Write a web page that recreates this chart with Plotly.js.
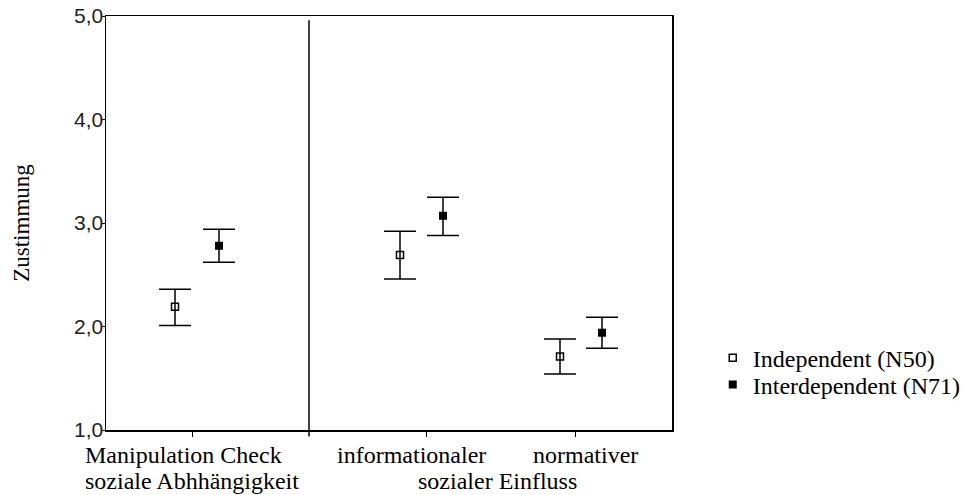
<!DOCTYPE html>
<html>
<head>
<meta charset="utf-8">
<script src="https://cdn.plot.ly/plotly-3.0.1.min.js"></script>
<style>html,body{margin:0;padding:0;background:#fff;}#chart{width:974px;height:495px;}</style>
</head>
<body>
<div id="chart"></div>
<script>
// Data
var categories = ["Manipulation Check", "informationaler", "normativer"];
var groupLabels = ["soziale Abhhängigkeit", "sozialer Einfluss"];
var seriesNames = ["Independent (N50)", "Interdependent (N71)"];

var indepMean  = [2.19, 2.69, 1.71];
var indepUpper = [2.36, 2.92, 1.88];
var indepLower = [2.01, 2.46, 1.54];

var interMean  = [2.78, 3.07, 1.94];
var interUpper = [2.94, 3.25, 2.09];
var interLower = [2.62, 2.88, 1.79];

var yTicks = [1, 2, 3, 4, 5];

// Layout helpers (positions on a numeric x axis)
var catPos = [0.86, 3.20, 4.69];
var indepOff = [-0.17, -0.26, -0.15];
var interOff = [0.27, 0.17, 0.27];
var labelShift = [-9, -15, 10];
var sepPos = 2.03;

function plus(m, u) { return m.map(function (v, i) { return u[i] - v; }); }
function minus(m, l) { return m.map(function (v, i) { return v - l[i]; }); }

var serif = "'Liberation Serif', 'Times New Roman', serif";
var sans = "'Liberation Sans', Arial, sans-serif";
var fs = 24;

var traces = [
  {
    type: "scatter", mode: "markers", name: seriesNames[0], legend: "legend",
    x: catPos.map(function (p, i) { return p + indepOff[i]; }),
    y: indepMean,
    marker: { symbol: "square-open", size: 7, color: "#000", line: { width: 1.5, color: "#000" } },
    error_y: { type: "data", symmetric: false, array: plus(indepMean, indepUpper), arrayminus: minus(indepMean, indepLower), color: "#000", thickness: 1.5, width: 16 }
  },
  {
    type: "scatter", mode: "markers", name: seriesNames[1], legend: "legend2",
    x: catPos.map(function (p, i) { return p + interOff[i]; }),
    y: interMean,
    marker: { symbol: "square", size: 8, color: "#000" },
    error_y: { type: "data", symmetric: false, array: plus(interMean, interUpper), arrayminus: minus(interMean, interLower), color: "#000", thickness: 1.5, width: 16 }
  }
];

var annotations = categories.map(function (c, i) {
  return { xref: "x", yref: "paper", x: catPos[i], xshift: labelShift[i], y: 0, yshift: -10, xanchor: "center", yanchor: "top", showarrow: false, text: c, font: { family: serif, size: fs, color: "#000" } };
});
annotations.push({ xref: "x", yref: "paper", x: catPos[0], y: 0, yshift: -36, xanchor: "center", yanchor: "top", showarrow: false, text: groupLabels[0], font: { family: serif, size: fs, color: "#000" } });
annotations.push({ xref: "x", yref: "paper", x: (catPos[1] + catPos[2]) / 2, xshift: -3, y: 0, yshift: -36, xanchor: "center", yanchor: "top", showarrow: false, text: groupLabels[1], font: { family: serif, size: fs, color: "#000" } });

var legendBase = { xanchor: "left", yanchor: "top", font: { family: serif, size: fs, color: "#000" }, bgcolor: "rgba(0,0,0,0)", borderwidth: 0 };

var layout = {
  width: 974, height: 495,
  margin: { l: 106, r: 302, t: 16, b: 65, autoexpand: false },
  paper_bgcolor: "#fff", plot_bgcolor: "#fff",
  separators: ",.",
  showlegend: true,
  legend: Object.assign({}, legendBase, { x: 1.072, y: 0.228 }),
  legend2: Object.assign({}, legendBase, { x: 1.072, y: 0.163 }),
  xaxis: {
    range: [0, 5.66], showgrid: false, zeroline: false, automargin: false,
    showline: true, linecolor: "#000", linewidth: 1.5, mirror: true,
    tickmode: "array", tickvals: catPos, showticklabels: false,
    ticks: "outside", ticklen: 5, tickcolor: "#000", tickwidth: 1
  },
  yaxis: {
    range: [1, 5], showgrid: false, zeroline: false, automargin: false,
    showline: true, linecolor: "#000", linewidth: 1.5, mirror: true,
    tickmode: "array", tickvals: yTicks, tickformat: ".1f",
    ticks: "outside", ticklen: 3, tickcolor: "#000", tickwidth: 1,
    ticklabelstandoff: -6,
    tickfont: { family: sans, size: 21, color: "#222" },
    title: { text: "Zustimmung", font: { family: serif, size: 23, color: "#000" }, standoff: 38 }
  },
  shapes: [
    { type: "line", xref: "x", yref: "paper", x0: sepPos, x1: sepPos, y0: -0.016, y1: 0.99, line: { color: "#000", width: 1.5 } }
  ],
  annotations: annotations
};

Plotly.newPlot("chart", traces, layout, { displayModeBar: false, staticPlot: true });
</script>
</body>
</html>
